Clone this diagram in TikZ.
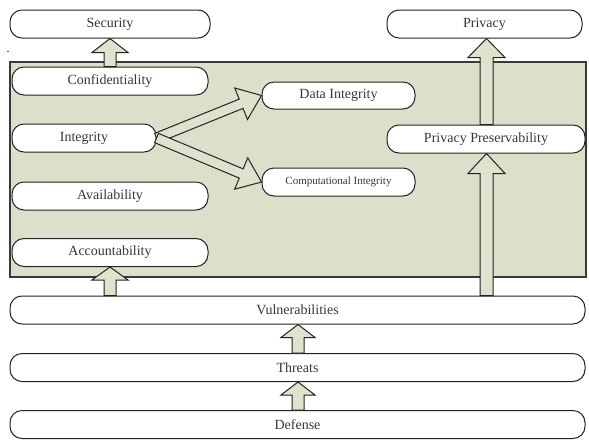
\documentclass[tikz,border=0pt]{standalone}
\usepackage{fontspec}
\setmainfont{Liberation Serif}
\usetikzlibrary{calc}
\definecolor{panel}{RGB}{220,224,203}
\definecolor{arrowfill}{RGB}{222,227,206}
\definecolor{edge}{RGB}{35,35,35}
\definecolor{txt}{RGB}{55,55,55}
\newcommand{\blockarrow}[5]{%
  \coordinate (bahead) at ($(#2)!#5!(#1)$);
  \draw[blockarr] ($(#1)!#3!90:(#2)$) -- ($(bahead)!#3!90:(#2)$) -- ($(bahead)!#4!90:(#2)$) -- (#2) -- ($(bahead)!#4!-90:(#2)$) -- ($(bahead)!#3!-90:(#2)$) -- ($(#1)!#3!-90:(#2)$) -- cycle;}
\tikzset{
  box/.style={draw=edge, line width=1pt, fill=white, rounded corners=12pt,
    minimum height=28pt, inner sep=0pt, text=txt, font=\fontsize{14}{16}\selectfont},
  blockarr/.style={draw=edge, line width=1pt, fill=arrowfill, line join=miter},
  panelbox/.style={draw=edge!90, line width=1.6pt, fill=panel}
}
\begin{document}
\begin{tikzpicture}[x=1pt, y=-1pt]
\useasboundingbox (0,0) rectangle (589,440);
\path[panelbox] (10,62) rectangle (586,277);
\node[text=black, font=\fontsize{12}{14}\selectfont] (dot) at (8,52) {.};
% top
\node[box, minimum width=200pt] (sec) at (110,24) {Security};
\node[box, minimum width=195pt] (priv) at (484.5,24) {Privacy};
% inside panel
\node[box, minimum width=196pt] (conf) at (110,81) {Confidentiality};
\node[box, minimum width=144pt] (integ) at (84,138) {Integrity};
\node[box, minimum width=196pt] (avail) at (110,196) {Availability};
\node[box, minimum width=196pt] (acct) at (110,252.5) {Accountability};
\node[box, minimum width=153pt, minimum height=27pt] (dint) at (338.5,95.5) {Data Integrity};
\node[box, minimum width=153pt, font=\fontsize{11}{13}\selectfont] (cint) at (338.5,182) {Computational Integrity};
\node[box, minimum width=198pt] (ppres) at (486,139) {Privacy Preservability};
% bottom
\node[box, minimum width=575pt] (vuln) at (297.5,310) {Vulnerabilities};
\node[box, minimum width=575pt] (threats) at (297.5,367.5) {Threats};
\node[box, minimum width=575pt] (defense) at (297.5,424.5) {Defense};
% anchor helpers
\coordinate (secin) at (sec.south -| conf.north);
\coordinate (acctfrom) at (vuln.north -| acct.south);
\coordinate (ppfrom) at (vuln.north -| 486.5,0);
\coordinate (ppto) at (ppres.south -| 486.5,0);
\coordinate (ppup) at (ppres.north -| 486.5,0);
\coordinate (privin) at (priv.south -| 486.5,0);
\coordinate (thrto) at (vuln.south -| 298,0);
\coordinate (thrfrom) at (threats.north -| 298,0);
\coordinate (defto) at (threats.south -| 298,0);
\coordinate (deffrom) at (defense.north -| 298,0);
% arrows
\blockarrow{conf.north}{secin}{6pt}{18pt}{14pt}
\blockarrow{acctfrom}{acct.south}{6pt}{18pt}{13pt}
\blockarrow{ppfrom}{ppto}{6.5pt}{18.5pt}{20pt}
\blockarrow{ppup}{privin}{6.5pt}{18.5pt}{19pt}
\blockarrow{thrfrom}{thrto}{6pt}{17pt}{13pt}
\blockarrow{deffrom}{defto}{6pt}{17pt}{13pt}
\blockarrow{integ.east}{dint.west}{5pt}{17pt}{22pt}
\blockarrow{integ.east}{cint.west}{5pt}{17pt}{22pt}
\end{tikzpicture}
\end{document}
